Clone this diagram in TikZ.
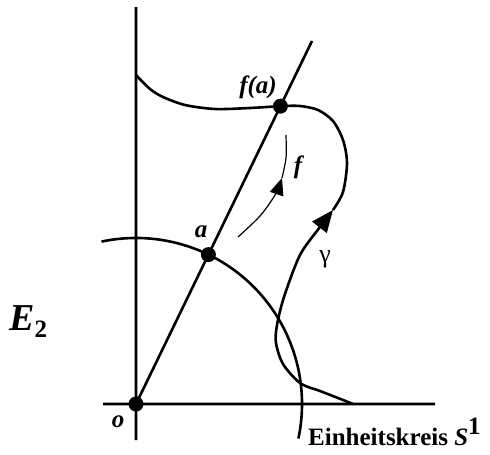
\documentclass[tikz,border=0pt]{standalone}
\usepackage{fontspec}
\setmainfont{Liberation Serif}
\usetikzlibrary{calc,arrows.meta}
\tikzset{lbl/.style={inner sep=0pt, anchor=base, font=\fontsize{25}{25}\selectfont\bfseries\itshape},
	dick/.style={line width=2.6pt},
	duenn/.style={line width=1.2pt},
	spitze/.style={-{Triangle[length=22pt,width=18pt]}}}
\begin{document}
\begin{tikzpicture}[x=1pt, y=1pt, yscale=-1, line join=round]
	\useasboundingbox (0,0) rectangle (490,455);
	\def \r{166} %Radius Einheitskreis
	\coordinate (O) at (136,404);
	\coordinate (P) at (312,41);
	\coordinate (A) at ($(O)!166pt!(P)$);
	\coordinate (F) at ($(O)!331pt!(P)$);
	\coordinate (K) at (101.5,241.6); %Anfang Bogen
	\draw[dick] (136,7) -- (136,440) (103,404) -- (435,404) (O) -- (P);
	\draw[dick] (K) arc[start angle=-102, end angle=12, radius=\r];
	\draw[dick,spitze] plot[smooth] coordinates {(353,404) (338,398) (320,391) (300,383) (283,364) (276,343) (277,325) (284,297) (300,255) (320,227) (333,210)};
	\draw[dick] plot[smooth] coordinates {(333,210) (343,192) (347,163) (343,140) (333,121) (318,110) (300,106) (F) (250,108) (215,109) (185,105) (163,97) (150,89) (136,75)};
	\draw[duenn,-{Triangle[length=17pt,width=14pt]}] plot[smooth] coordinates {(238,237) (260,216) (275,195) (282,178)};
	\draw[duenn] plot[smooth] coordinates {(282,178) (286,158) (286,135)};
	\fill (O) circle[radius=7.5] (A) circle[radius=7.5] (F) circle[radius=7.5];
	\node[lbl] (lfa) at (258,93) {f(a)};
	\node[lbl] (la) at (201,237) {a};
	\node[lbl] (lf) at (298,173) {f};
	\node[lbl] (lo) at (118,427) {o};
	\node[inner sep=0pt, anchor=base, font=\fontsize{26}{26}\selectfont] (lg) at (325,262) {γ};
	\node[inner sep=0pt, anchor=base west, font=\fontsize{38}{38}\selectfont\bfseries\itshape] (le) at (9,330) {E\raisebox{-7pt}{\fontsize{25}{25}\selectfont\upshape 2}};
	\node[inner sep=0pt, anchor=base west, font=\fontsize{25}{25}\selectfont\bfseries] (ls) at (308,445) {Einheitskreis \textit{S}\raisebox{11pt}{1}};
\end{tikzpicture}
\end{document}
